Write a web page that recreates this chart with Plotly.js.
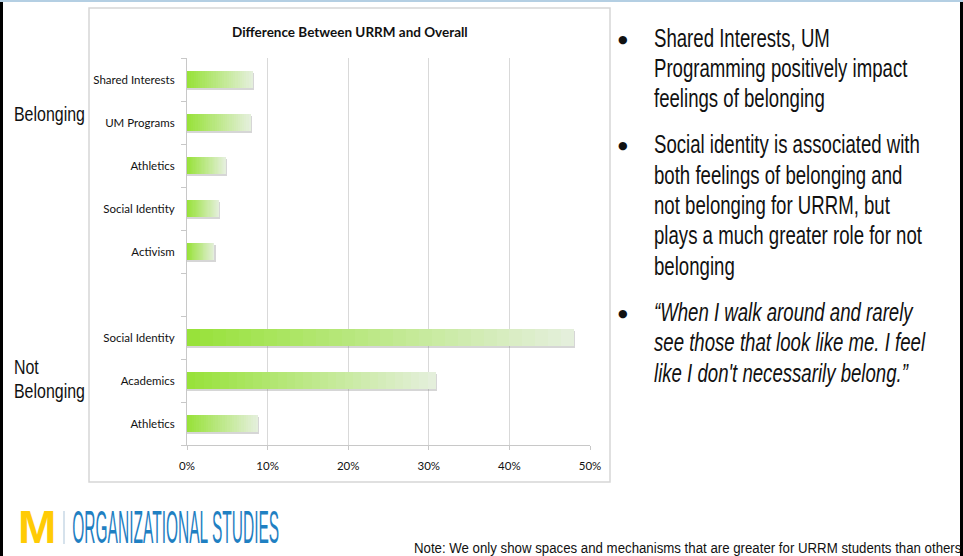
<!DOCTYPE html>
<html>
<head>
<meta charset="utf-8">
<script src="https://cdn.plot.ly/plotly-3.0.1.min.js"></script>
<style>
html,body{margin:0;padding:0;background:#fff;}
#chart{width:963px;height:556px;}
</style>
</head>
<body>
<div id="chart"></div>
<script>
// ---- data ----
const categories = ["Shared Interests", "UM Programs", "Athletics", "Social Identity", "Activism", "", "Social Identity", "Academics", "Athletics"];
const values = [8.2, 7.9, 4.8, 4.0, 3.4, null, 48.0, 30.9, 8.8];
const xTickVals = [0, 10, 20, 30, 40, 50];
const xTickText = ["0%", "10%", "20%", "30%", "40%", "50%"];
const chartTitle = "Difference Between URRM and Overall";
const groupLabelLines = [["Belonging"], ["Not", "Belonging"]];
const bulletLines = [
  ["Shared Interests, UM", "Programming positively impact", "feelings of belonging"],
  ["Social identity is associated with", "both feelings of belonging and", "not belonging for URRM, but", "plays a much greater role for not", "belonging"],
  ["“When I walk around and rarely", "see those that look like me. I feel", "like I don't necessarily belong.”"]
];
const bulletItalic = [false, false, true];
const logoText = "ORGANIZATIONAL STUDIES";
const noteText = "Note: We only show spaces and mechanisms that are greater for URRM students than others";

// ---- layout geometry (pixels) ----
const W = 963, H = 556;
const L = 187, R = 590, T = 58, B = 445;
const px = x => (x - L) / (R - L);
const py = y => (B - y) / (B - T);

const n = categories.length;
const yPos = categories.map((c, i) => n - 1 - i);
const boundaries = [];
for (let k = 0; k <= n; k++) boundaries.push(k - 0.5);

const BAR_W = 0.4;
const traces = [];
// soft shadow under each bar (base subplot)
traces.push({
  type: 'bar', orientation: 'h', xaxis: 'x', yaxis: 'y',
  x: values.map(v => v == null ? null : v + 0.15), y: yPos,
  width: BAR_W, offset: -BAR_W / 2 - 0.05,
  marker: {color: 'rgba(120,120,120,0.3)', line: {width: 0}},
  hoverinfo: 'skip', showlegend: false
});
// gradient bars built as stacked segments of each value (overlay subplot)
const SEG = 30;
const c0 = [152, 226, 58], c1 = [228, 239, 219];
for (let s = 0; s < SEG; s++) {
  const t = s / (SEG - 1);
  const col = c0.map((v, k) => Math.round(v + (c1[k] - v) * t));
  traces.push({
    type: 'bar', orientation: 'h', xaxis: 'x', yaxis: 'y2',
    x: values.map(v => v == null ? null : v / SEG), y: yPos,
    width: BAR_W,
    marker: {color: 'rgb(' + col.join(',') + ')', line: {width: 0}},
    hoverinfo: 'skip', showlegend: false
  });
}

const NARROW = 'Liberation Sans, Arial, sans-serif';
const annotations = [];
const squeeze = []; // annotations to be condensed horizontally
function addAnn(a, group, target) {
  annotations.push(Object.assign({xref: 'paper', yref: 'paper', showarrow: false, yanchor: 'middle'}, a));
  if (group) squeeze.push({i: annotations.length - 1, group: group, target: target, anchor: a.xanchor});
}
addAnn({text: '<b>' + chartTitle + '</b>', x: px(349.5), y: py(32), xanchor: 'center',
  font: {family: 'Lato, sans-serif', size: 13.5, color: '#111'}});
// group labels
addAnn({text: groupLabelLines[0][0], x: px(12), y: py(114), xanchor: 'left', align: 'left',
  font: {family: NARROW, size: 20, color: '#111'}}, 'grp', 71);
addAnn({text: groupLabelLines[1][0], x: px(12), y: py(367), xanchor: 'left', align: 'left',
  font: {family: NARROW, size: 20, color: '#111'}}, 'grp', null);
addAnn({text: groupLabelLines[1][1], x: px(12), y: py(391), xanchor: 'left', align: 'left',
  font: {family: NARROW, size: 20, color: '#111'}}, 'grp', null);
// bullets
const blockCenters = [[38, 68, 98], [144, 175, 205, 235, 266], [312, 342, 373]];
bulletLines.forEach((lines, b) => {
  addAnn({text: '●', x: px(623), y: py(blockCenters[b][0] + 1), xanchor: 'center',
    font: {family: 'DejaVu Sans, sans-serif', size: 11, color: '#111'}});
  lines.forEach((ln, j) => {
    const txt = bulletItalic[b] ? '<i>' + ln + '</i>' : ln;
    addAnn({text: txt, x: px(652), y: py(blockCenters[b][j]), xanchor: 'left', align: 'left',
      font: {family: NARROW, size: 26, color: '#111'}}, 'bul', (b === 0 && j === 1) ? 254 : null);
  });
});
// logo + note
addAnn({text: '<b>M</b>', x: px(36.5), y: py(527), xanchor: 'center',
  font: {family: 'Liberation Sans, Arial, sans-serif', size: 46, color: '#ffcb05'}});
addAnn({text: logoText, x: px(175.5), y: py(527), xanchor: 'center',
  font: {family: NARROW, size: 46, color: '#1f80c2'}}, 'logo', 207);
addAnn({text: noteText, x: px(412), y: py(547), xanchor: 'left', align: 'left',
  font: {family: NARROW, size: 15, color: '#111'}}, 'note', 548);

const shapes = [
  {type: 'rect', xref: 'paper', yref: 'paper', x0: px(89), x1: px(610), y0: py(8), y1: py(482), line: {color: '#d6d6d6', width: 1.5}},
  {type: 'line', xref: 'paper', yref: 'paper', x0: px(64), x1: px(64), y0: py(511), y1: py(544), line: {color: '#c9d8e6', width: 1.5}},
  {type: 'line', xref: 'paper', yref: 'paper', x0: px(1.5), x1: px(1.5), y0: py(2), y1: py(556), line: {color: '#000', width: 3}},
  {type: 'line', xref: 'paper', yref: 'paper', x0: px(961.5), x1: px(961.5), y0: py(2), y1: py(556), line: {color: '#000', width: 3}},
  {type: 'line', xref: 'paper', yref: 'paper', x0: px(0), x1: px(963), y0: py(1), y1: py(1), line: {color: '#b4cfe3', width: 2}}
];

const yRange = [-0.5, n - 0.5];
const layout = {
  width: W, height: H,
  margin: {l: L, r: W - R, t: T, b: H - B, pad: 0},
  paper_bgcolor: '#fff', plot_bgcolor: 'rgba(0,0,0,0)',
  barmode: 'stack', bargap: 0,
  showlegend: false,
  xaxis: {
    range: [0, 50], tickvals: xTickVals, ticktext: xTickText,
    showgrid: true, gridcolor: '#d9d9d9', gridwidth: 1,
    showline: true, linecolor: '#c8c8c8', linewidth: 1,
    ticks: 'outside', ticklen: 4, tickcolor: '#c8c8c8',
    ticklabelstandoff: 6,
    zeroline: false, fixedrange: true,
    tickfont: {family: 'Lato, sans-serif', size: 11.5, color: '#111'}
  },
  yaxis: {
    range: yRange, tickvals: yPos, ticktext: categories,
    ticks: '', showgrid: false, zeroline: false,
    showline: true, linecolor: '#c8c8c8', linewidth: 1,
    ticklabelstandoff: 9,
    fixedrange: true,
    tickfont: {family: 'Lato, sans-serif', size: 11.5, color: '#111'}
  },
  yaxis2: {
    overlaying: 'y', side: 'left', range: yRange,
    tickvals: boundaries, showticklabels: false,
    ticks: 'outside', ticklen: 5, tickcolor: '#c8c8c8',
    showgrid: false, zeroline: false, showline: false, fixedrange: true
  },
  annotations: annotations,
  shapes: shapes
};

const gd = document.getElementById('chart');
Plotly.newPlot(gd, traces, layout, {staticPlot: true, displayModeBar: false}).then(() => {
  // condense the sans-serif texts horizontally to the narrow widths of the original slide
  const grp = i => gd.querySelector('.annotation[data-index="' + i + '"]');
  const factors = {};
  squeeze.forEach(s => {
    if (s.target != null) {
      const el = grp(s.i).querySelector('text.annotation-text');
      factors[s.group] = s.target / el.getBBox().width;
    }
  });
  squeeze.forEach(s => {
    const g = grp(s.i);
    const el = g.querySelector('text.annotation-text');
    const f = factors[s.group];
    if (!el || !f) return;
    const bb = el.getBBox();
    const ox = s.anchor === 'center' ? bb.x + bb.width / 2 : bb.x;
    const prev = el.getAttribute('transform') || '';
    el.setAttribute('transform', 'matrix(' + f.toFixed(4) + ',0,0,1,' + (ox * (1 - f)).toFixed(2) + ',0) ' + prev);
    const w0 = bb.width, w1 = bb.width * f;
    const rect = g.querySelector('rect.bg');
    if (rect) {
      const rw = parseFloat(rect.getAttribute('width'));
      const rx = parseFloat(rect.getAttribute('x') || 0);
      rect.setAttribute('width', Math.max(1, rw - (w0 - w1)).toFixed(1));
      if (s.anchor === 'center') rect.setAttribute('x', (rx + (w0 - w1) / 2).toFixed(1));
    }
  });
});
</script>
</body>
</html>
